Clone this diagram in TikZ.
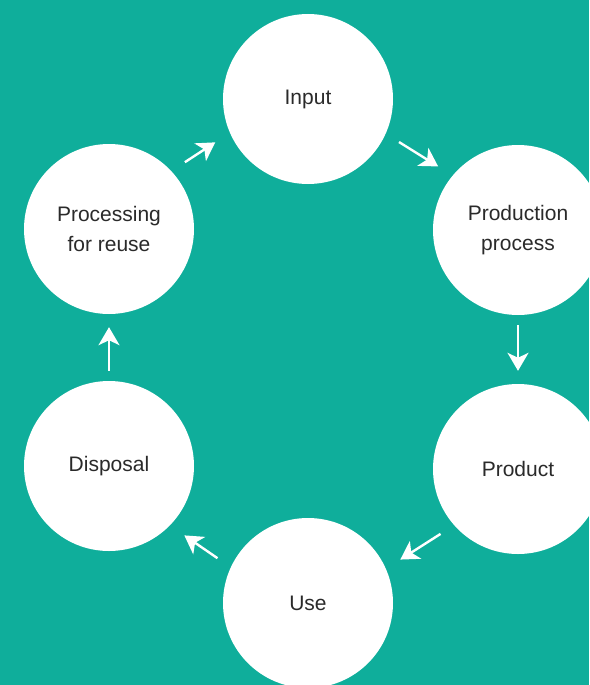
\documentclass[tikz,border=0pt]{standalone}
\usepackage{fontspec}
\setmainfont{Liberation Sans}
\usetikzlibrary{arrows.meta,positioning}
\definecolor{bgteal}{HTML}{0FAE9B}
\definecolor{labelgray}{HTML}{2A2A2A}

\begin{document}
\begin{tikzpicture}[x=1pt,y=-1pt,% styles for the whole cycle
      every node/.style={
        align=center,     % two-line labels
        font=\fontsize{21}{30}\selectfont,
        text=labelgray
      },
      stage/.style={circle,fill=white,minimum size=170pt,inner sep=0pt},
      every edge/.style={draw=white,line width=2.4pt,
        -{Stealth[length=18pt,width=21pt,inset=5pt]},shorten >=16pt,shorten <=15pt},
      straight/.style={shorten >=13pt,shorten <=10pt},
      nudge/.style={transform canvas={shift={#1}}} % pushes diagonal arrows outward
    ]
    \fill[bgteal] (0,0) rectangle (589,685);
    \useasboundingbox (0,0) rectangle (589,685);
    \node[stage](IN) at (308,99){Input};
    \node[stage](PP) at (518,230){Production\\process};
    \node[stage](PR) at (518,469){Product};
    \node[stage](US) at (308,603){Use};
    \node[stage](DI) at (109,466){Disposal};
    \node[stage](RE) at (109,229){Processing\\for reuse};
    \path
    (IN)edge [nudge={(6,-10)}] node [] {} (PP)
    (PP)edge [straight] node [] {} (PR)
    (PR)edge [nudge={(7,11)}] node [] {} (US)
    (US)edge [nudge={(-8,12)}] node [] {} (DI)
    (DI)edge [straight] node [] {} (RE)
    (RE)edge [nudge={(-8,-12)}] node [] {} (IN)
    ;
  \end{tikzpicture}
\end{document}
